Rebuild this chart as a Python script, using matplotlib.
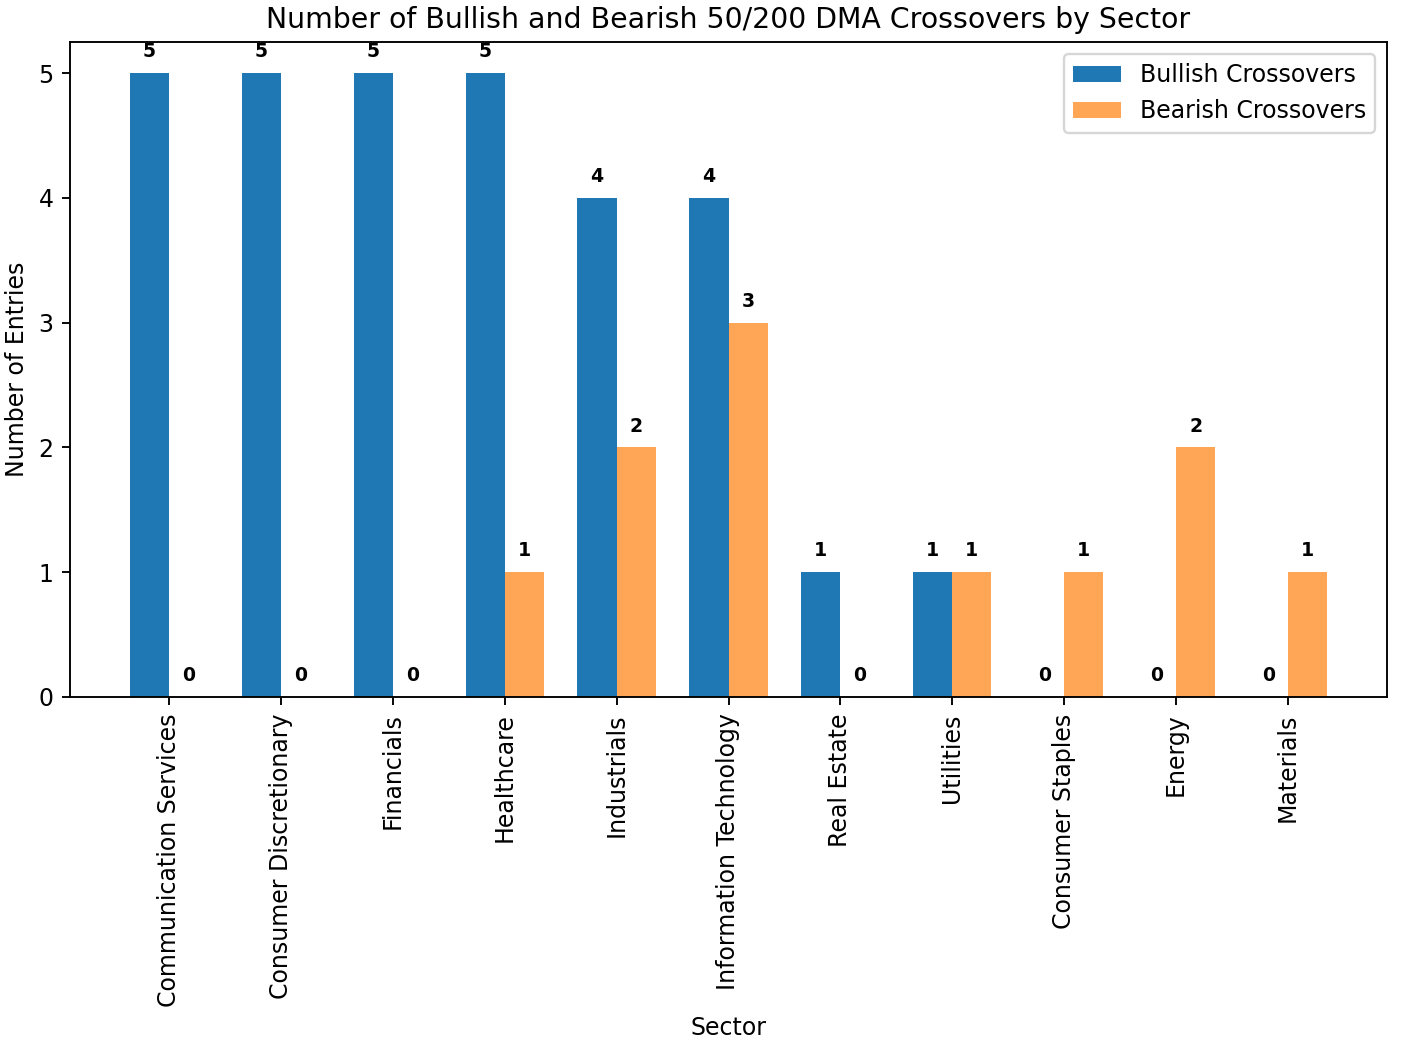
import matplotlib
matplotlib.use('Agg')
import matplotlib.pyplot as plt
import numpy as np

sectors = ['Communication Services', 'Consumer Discretionary', 'Financials', 'Healthcare',
           'Industrials', 'Information Technology', 'Real Estate', 'Utilities',
           'Consumer Staples', 'Energy', 'Materials']
bullish = [5, 5, 5, 5, 4, 4, 1, 1, 0, 0, 0]
bearish = [0, 0, 0, 1, 2, 3, 0, 1, 1, 2, 1]

x = np.arange(len(sectors))
width = 0.35

fig, ax = plt.subplots(figsize=(1404 / 170, 1054 / 170), dpi=170)
b1 = ax.bar(x - width / 2, bullish, width, label='Bullish Crossovers', color='#1f77b4')
b2 = ax.bar(x + width / 2, bearish, width, label='Bearish Crossovers', color='#ff7f0e', alpha=0.7)

for bars in (b1, b2):
    for bar in bars:
        h = bar.get_height()
        ax.annotate(str(int(h)), xy=(bar.get_x() + bar.get_width() / 2, h),
                    xytext=(0, 5), textcoords='offset points',
                    ha='center', va='bottom', fontsize=8, fontweight='bold')

ax.set_title('Number of Bullish and Bearish 50/200 DMA Crossovers by Sector')
ax.set_xlabel('Sector')
ax.set_ylabel('Number of Entries')
ax.set_xticks(x)
ax.set_xticklabels(sectors, rotation=90)
ax.legend()

fig.subplots_adjust(left=70 / 1404, right=1387 / 1404, top=1 - 42 / 1054, bottom=1 - 697 / 1054)
plt.savefig('out.png', dpi=170)
